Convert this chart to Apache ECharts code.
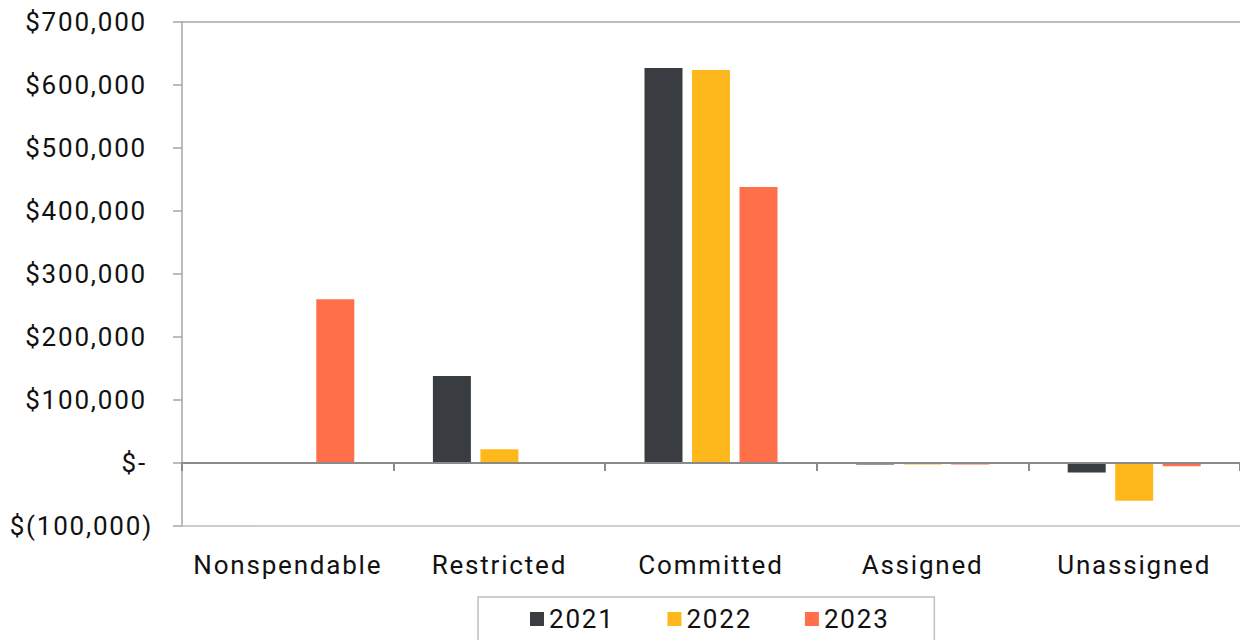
<!DOCTYPE html>
<html>
<head>
<meta charset="utf-8">
<script src="https://cdn.jsdelivr.net/npm/echarts@6/dist/echarts.min.js"></script>
<style>
html,body{margin:0;padding:0;background:#fff;}
#chart{width:1240px;height:640px;}
#chart svg text{letter-spacing:1.8px;}
</style>
</head>
<body>
<div id="chart"></div>
<script>
var categories = ['Nonspendable', 'Restricted', 'Committed', 'Assigned', 'Unassigned'];
var years = ['2021', '2022', '2023'];
var values2021 = [0, 138000, 627000, -2500, -15000];
var values2022 = [0, 22000, 624000, -2500, -60000];
var values2023 = [260000, 0, 438000, -2500, -5000];
var colors = ['#393d41', '#ffb81c', '#ff6f4a'];

var FONT = 'Roboto';

function fmt(v) {
  if (v === 0) return '{p|$-}';
  var a = Math.abs(v).toString().replace(/\B(?=(\d{3})+(?!\d))/g, ',');
  return v < 0 ? '{n|$(' + a + ')}' : '{p|$' + a + '}';
}

var labelText = {fontFamily: FONT, fontSize: 26, color: '#111'};
var chart = echarts.init(document.getElementById('chart'), null, {renderer: 'svg'});
var seriesData = [values2021, values2022, values2023];
var option = {
  animation: false,
  grid: {left: 182, right: -4, top: 22, bottom: 114, containLabel: false},
  legend: {
    data: years,
    left: 478,
    top: 597,
    icon: 'rect',
    itemWidth: 14,
    itemHeight: 14,
    itemGap: 60,
    padding: [7, 52, 12, 52],
    borderColor: '#bfbfbf',
    borderWidth: 1.5,
    textStyle: {fontFamily: FONT, fontSize: 26, color: '#111', lineHeight: 30}
  },
  xAxis: [
    {
      type: 'category',
      data: categories,
      position: 'bottom',
      axisLine: {onZero: true, lineStyle: {color: '#8a8a8a', width: 2}},
      axisTick: {show: true, length: 8, lineStyle: {color: '#8a8a8a', width: 2}},
      axisLabel: {show: false},
      splitLine: {show: false},
      z: 5
    },
    {
      type: 'category',
      data: categories,
      position: 'bottom',
      offset: 0,
      axisLine: {onZero: false, lineStyle: {color: '#bfbfbf', width: 1.5}},
      axisTick: {show: false},
      axisLabel: {show: true, interval: 0, margin: 26, fontFamily: FONT, fontSize: 26, color: '#111'},
      splitLine: {show: false}
    },
    {
      type: 'category',
      data: categories,
      position: 'top',
      offset: 0,
      axisLine: {onZero: false, lineStyle: {color: '#a6a6a6', width: 1.5}},
      axisTick: {show: false},
      axisLabel: {show: false},
      splitLine: {show: false}
    }
  ],
  yAxis: {
    type: 'value',
    min: -100000,
    max: 700000,
    interval: 100000,
    axisLine: {show: true, lineStyle: {color: '#a6a6a6', width: 1.5}},
    axisTick: {show: true, length: 9, lineStyle: {color: '#a6a6a6', width: 1.5}},
    axisLabel: {
      margin: 29,
      fontFamily: FONT, fontSize: 26, color: '#111',
      formatter: fmt,
      rich: {
        p: {fontFamily: FONT, fontSize: 26, color: '#111', padding: [0, 6, 0, 0]},
        n: {fontFamily: FONT, fontSize: 26, color: '#111'}
      }
    },
    splitLine: {show: false}
  },
  series: years.map(function (y, i) {
    return {
      name: y,
      type: 'bar',
      xAxisIndex: 0,
      data: seriesData[i],
      barWidth: 38,
      barGap: '25%',
      itemStyle: {color: colors[i]},
      z: 2
    };
  })
};
chart.setOption(option);
</script>
</body>
</html>
